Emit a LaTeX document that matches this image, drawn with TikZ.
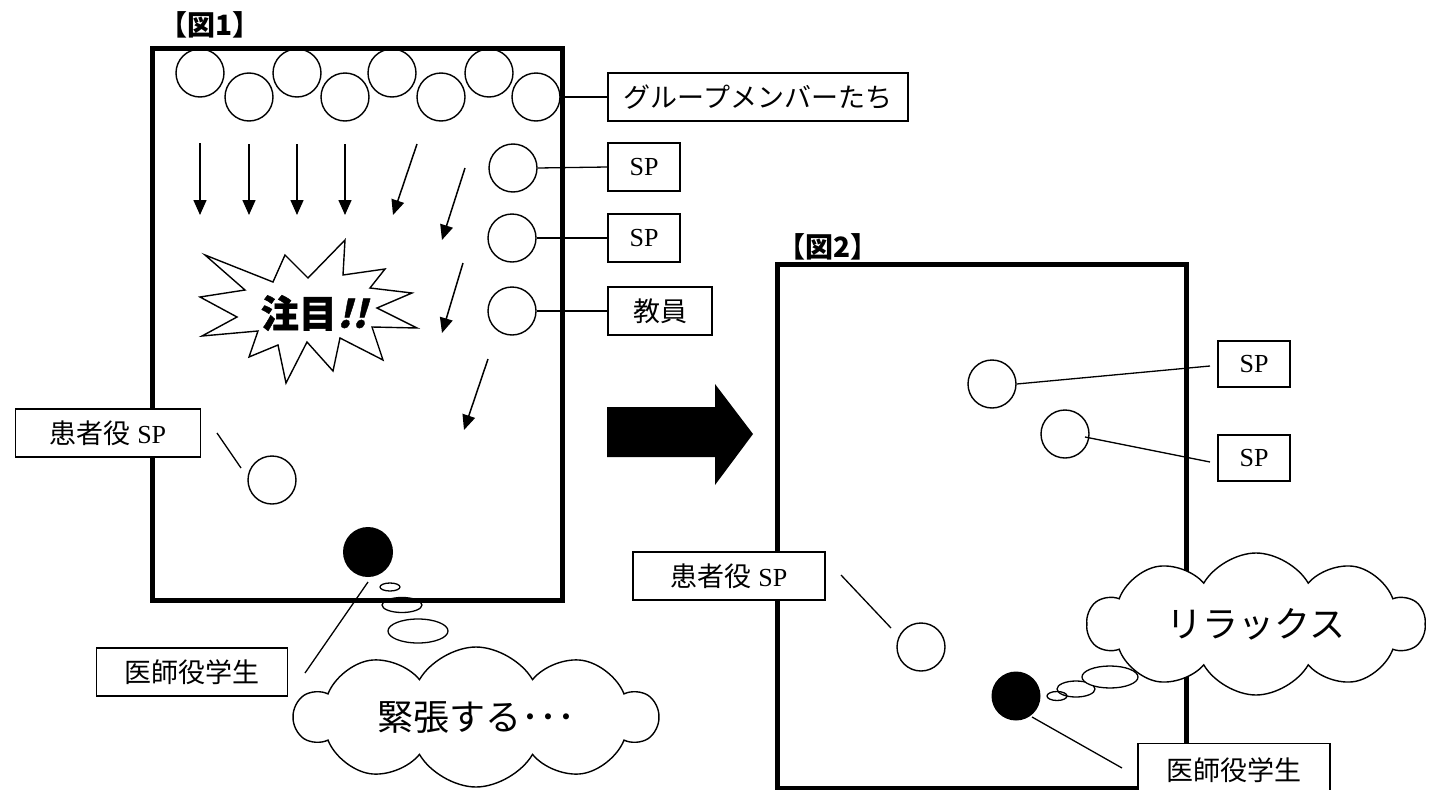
\documentclass[tikz,border=0pt]{standalone}
\usepackage{fontspec}
\setmainfont{Liberation Serif}
\newfontfamily\jp{Noto Sans CJK JP}
\newfontfamily\jpheavy{Noto Sans CJK JP}[BoldFeatures={FakeBold=1.2}]
\newfontfamily\jpsl{Noto Sans CJK JP}[FakeSlant=0.25, BoldFeatures={FakeBold=1.2, FakeSlant=0.25}]
\usetikzlibrary{arrows.meta,shapes.symbols,shapes.geometric}
\tikzset{
  frame/.style={line width=5pt},
  person/.style={circle, draw, line width=1.4pt, minimum size=48pt, inner sep=0pt},
  student/.style={circle, fill=black, minimum size=50pt, inner sep=0pt},
  lbl/.style={draw, line width=1.2pt, fill=white, inner sep=0pt, minimum height=48pt, font=\fontsize{26}{30}\selectfont},
  conn/.style={line width=1.3pt},
  mv/.style={line width=1.5pt, -{Triangle[length=15pt,width=13pt]}},
  bubble/.style={ellipse, draw, line width=1.3pt, inner sep=0pt},
  think/.style={cloud, draw, fill=white, line width=1.4pt, cloud puffs=10, cloud puff arc=120, cloud ignores aspect, inner sep=0pt, font=\jp\fontsize{36}{40}\selectfont},
  title/.style={font=\jp\bfseries\fontsize{28}{32}\selectfont, inner sep=0pt},
}
\newcommand\jl[1]{{\jp\fontsize{27}{30}\selectfont #1}}
\begin{document}
\begin{tikzpicture}[x=1pt,y=-1pt]
\useasboundingbox (0,0) rectangle (1436,790);
% ---------- Figure 1 ----------
\node[title] (t1) at (210,25) {【図1】};
\draw[frame] (152,48) rectangle (562,600);
% group members
\node[person] (g1) at (200,73) {};
\node[person] (g2) at (249,97) {};
\node[person] (g3) at (297,73) {};
\node[person] (g4) at (345,97) {};
\node[person] (g5) at (392,73) {};
\node[person] (g6) at (441,97) {};
\node[person] (g7) at (489,73) {};
\node[person] (g8) at (536,97) {};
\node[person] (sp1) at (513,168) {};
\node[person] (sp2) at (512,238) {};
\node[person] (tch) at (512,311) {};
\node[person] (pt1) at (272,480) {};
\node[student] (st1) at (368,552) {};
% labels
\node[lbl, minimum width=300pt] (lg) at (758,97) {\jl{グループメンバーたち}};
\node[lbl, minimum width=72pt] (lsp1) at (644,167) {SP};
\node[lbl, minimum width=72pt] (lsp2) at (644,238) {SP};
\node[lbl, minimum width=104pt] (lt) at (660,311) {\jl{教員}};
\node[lbl, minimum width=185pt] (lp1) at (108,433) {\jl{患者役} SP};
\node[lbl, minimum width=191pt] (ls1) at (192,672) {\jl{医師役学生}};
\draw[conn] (g8.east) -- (lg.west);
\draw[conn] (sp1.east) -- (lsp1.west);
\draw[conn] (sp2.east) -- (lsp2.west);
\draw[conn] (tch.east) -- (lt.west);
\coordinate (pa1) at (217,433); \coordinate (pb1) at (241,468);
\draw[conn] (pa1) -- (pb1);
\coordinate (sa1) at (368,582); \coordinate (sb1) at (305,673);
\draw[conn] (sa1) -- (sb1);
% arrows
\coordinate (a1s) at (200,143); \coordinate (a1e) at (200,215);
\coordinate (a2s) at (249,144); \coordinate (a2e) at (249,215);
\coordinate (a3s) at (297,144); \coordinate (a3e) at (297,215);
\coordinate (a4s) at (345,144); \coordinate (a4e) at (345,215);
\coordinate (a5s) at (417,144); \coordinate (a5e) at (393,215);
\coordinate (a6s) at (465,168); \coordinate (a6e) at (442,240);
\coordinate (a7s) at (463,263); \coordinate (a7e) at (442,333);
\coordinate (a8s) at (488,359); \coordinate (a8e) at (464,430);
\foreach \i in {1,...,8} {\draw[mv] (a\i s) -- (a\i e);}
% burst
\draw[line width=1.4pt, fill=white, line join=miter]
 (205,255) -- (273,282) -- (285,255) -- (308,278) -- (345,240) -- (343,275)
 -- (385,269) -- (370,288) -- (412,293) -- (377,308) -- (417,328) -- (372,327)
 -- (383,360) -- (340,338) -- (333,371) -- (307,342) -- (286,383) -- (278,345)
 -- (249,357) -- (258,331) -- (202,336) -- (237,317) -- (200,297) -- (245,290) -- cycle;
\node[inner sep=0pt] (att) at (314,313) {\jpheavy\bfseries\fontsize{38}{40}\selectfont 注目{\jpsl\bfseries !!}};
% thought bubbles
\node[bubble, minimum width=20pt, minimum height=8pt] (b11) at (390,587) {};
\node[bubble, minimum width=40pt, minimum height=15pt] (b12) at (402,605) {};
\node[bubble, minimum width=60pt, minimum height=24pt] (b13) at (418,631) {};
\node[think, minimum width=362pt, minimum height=140pt] (c1) at (476,717) {緊張する･･･};
% ---------- big arrow ----------
\fill (607,407) -- (715,407) -- (715,384) -- (753,434) -- (715,485) -- (715,457) -- (607,457) -- cycle;
% ---------- Figure 2 ----------
\node[title] (t2) at (828,247) {【図2】};
\draw[frame] (777,264) rectangle (1186,788);
\node[person] (q1) at (992,384) {};
\node[person] (q2) at (1065,434) {};
\node[person] (pt2) at (921,647) {};
\node[student, minimum size=49pt] (st2) at (1016,696) {};
\node[lbl, minimum width=72pt, minimum height=46pt] (lq1) at (1254,364) {SP};
\node[lbl, minimum width=72pt, minimum height=46pt] (lq2) at (1254,458) {SP};
\node[lbl, minimum width=192pt] (lp2) at (729,576) {\jl{患者役} SP};
\node[lbl, minimum width=192pt, minimum height=54pt, anchor=north] (ls2) at (1234,743) {\jl{医師役学生}};
\coordinate (qa1) at (1210,366);
\draw[conn] (q1.east) -- (qa1);
\coordinate (qb0) at (1085,437); \coordinate (qb1) at (1210,462);
\draw[conn] (qb0) -- (qb1);
\coordinate (pa2) at (841,575); \coordinate (pb2) at (891,628);
\draw[conn] (pa2) -- (pb2);
\coordinate (sa2) at (1032,717); \coordinate (sb2) at (1122,768);
\draw[conn] (sa2) -- (sb2);
\node[think, minimum width=337pt, minimum height=142pt] (c2) at (1256,624) {リラックス};
\node[bubble, minimum width=20pt, minimum height=9pt] (b21) at (1057,696) {};
\node[bubble, minimum width=38pt, minimum height=16pt] (b22) at (1076,689) {};
\node[bubble, fill=white, minimum width=56pt, minimum height=22pt] (b23) at (1110,677) {};
\end{tikzpicture}
\end{document}
